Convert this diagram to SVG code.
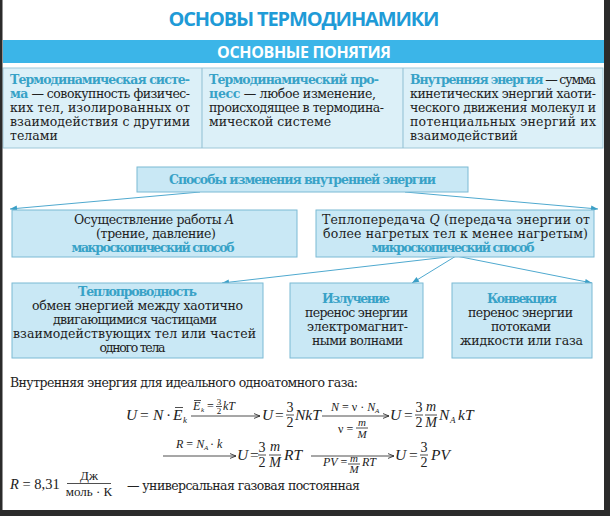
<svg xmlns="http://www.w3.org/2000/svg" width="610" height="516" viewBox="0 0 610 516">
<defs>
<style>
.t{font-family:"DejaVu Serif","Liberation Serif",serif;font-size:12.5px;fill:#222}
.bl{font-weight:bold;fill:#38a2c7}
.c{text-anchor:middle}
.m{font-family:"Liberation Serif",serif;font-size:15.5px;fill:#222}
.i{font-style:italic}
.n{font-style:normal}
.box{fill:#c9e8f5;stroke:#7bbad4;stroke-width:1}
.con{stroke:#4fa9cf;stroke-width:1;fill:none}
.fl{stroke:#222;stroke-width:0.8;fill:none}
</style>
<marker id="ah" viewBox="0 0 10 10" refX="10" refY="5" markerWidth="8" markerHeight="7" markerUnits="userSpaceOnUse" orient="auto"><path d="M0,1 L10,5 L0,9 z" fill="#3b9fc6"/></marker>
<marker id="ak" viewBox="0 0 10 10" refX="10" refY="5" markerWidth="7" markerHeight="6" markerUnits="userSpaceOnUse" orient="auto"><path d="M0,1 L10,5 L0,9" fill="none" stroke="#222" stroke-width="1.4"/></marker>
</defs>
<rect x="0" y="0" width="610" height="516" fill="#fff"/>

<g id="title">
<text x="304" y="25.5" text-anchor="middle" textLength="271" style="font-family:'Open Sans',sans-serif;font-weight:bold;font-size:20px;fill:#1f9bd7">ОСНОВЫ ТЕРМОДИНАМИКИ</text>
</g>
<g id="band">
<rect x="3" y="40" width="601" height="23" fill="#3bb5e8"/>
<text x="304" y="58" text-anchor="middle" textLength="174" style="font-family:'Open Sans',sans-serif;font-weight:bold;font-size:16px;fill:#fff">ОСНОВНЫЕ ПОНЯТИЯ</text>
</g>

<g id="table">
<rect x="3" y="68" width="600" height="80" fill="#dcf0f8" stroke="#9ec8d9" stroke-width="1"/>
<line x1="202" y1="68" x2="202" y2="148" stroke="#8fbfd3"/>
<line x1="403" y1="68" x2="403" y2="148" stroke="#8fbfd3"/>
<g id="cell-system">
<text class="t bl" x="10" y="84" textLength="180">Термодинамическая систе-</text>
<text class="t" x="10" y="98" textLength="180"><tspan class="bl">ма</tspan> — совокупность физичес-</text>
<text class="t" x="10" y="112" textLength="180">ких тел, изолированных от</text>
<text class="t" x="10" y="126" textLength="180">взаимодействия с другими</text>
<text class="t" x="10" y="140">телами</text>
</g>
<g id="cell-process">
<text class="t bl" x="209" y="84" textLength="170">Термодинамический про-</text>
<text class="t" x="209" y="98" textLength="167"><tspan class="bl">цесс</tspan> — любое изменение,</text>
<text class="t" x="209" y="112" textLength="175">происходящее в термодина-</text>
<text class="t" x="209" y="126">мической системе</text>
</g>
<g id="cell-energy">
<text class="t" x="410" y="84" textLength="186"><tspan class="bl">Внутренняя энергия</tspan> — сумма</text>
<text class="t" x="410" y="98" textLength="186">кинетических энергий хаоти-</text>
<text class="t" x="410" y="112" textLength="186">ческого движения молекул и</text>
<text class="t" x="410" y="126" textLength="186">потенциальных энергий их</text>
<text class="t" x="410" y="140">взаимодействий</text>
</g>
</g>

<g id="connectors">
<line class="con" x1="200" y1="192" x2="10" y2="209" marker-end="url(#ah)"/>
<line class="con" x1="405" y1="192" x2="598" y2="209" marker-end="url(#ah)"/>
<line class="con" x1="456" y1="256" x2="222" y2="283" marker-end="url(#ah)"/>
<line class="con" x1="456" y1="256" x2="412" y2="283" marker-end="url(#ah)"/>
<line class="con" x1="456" y1="256" x2="592" y2="283" marker-end="url(#ah)"/>
</g>

<g id="node-ways">
<rect class="box" x="137" y="167" width="331" height="25"/>
<text class="t bl c" x="302.5" y="184" textLength="267">Способы изменения внутренней энергии</text>
</g>
<g id="node-work">
<rect class="box" x="12" y="210" width="285" height="47"/>
<text class="t c" x="154" y="224" textLength="160">Осуществление работы <tspan class="i">A</tspan></text>
<text class="t c" x="156" y="238" textLength="120">(трение, давление)</text>
<text class="t bl c" x="153" y="252" textLength="163">макроскопический способ</text>
</g>
<g id="node-heat">
<rect class="box" x="316" y="210" width="278" height="47"/>
<text class="t c" x="456" y="224" textLength="268">Теплопередача <tspan class="i">Q</tspan> (передача энергии от</text>
<text class="t c" x="455.5" y="238" textLength="265">более нагретых тел к менее нагретым)</text>
<text class="t bl c" x="453" y="252" textLength="163">микроскопический способ</text>
</g>
<g id="node-conduction">
<rect class="box" x="12" y="283" width="251" height="75"/>
<text class="t bl c" x="137.5" y="296" textLength="119">Теплопроводность</text>
<text class="t c" x="137.5" y="310" textLength="211">обмен энергией между хаотично</text>
<text class="t c" x="135" y="324" textLength="164">двигающимися частицами</text>
<text class="t c" x="134.5" y="338" textLength="243">взаимодействующих тел или частей</text>
<text class="t c" x="132.5" y="352" textLength="66">одного тела</text>
</g>
<g id="node-radiation">
<rect class="box" x="290" y="283" width="133" height="75"/>
<text class="t bl c" x="356" y="303" textLength="68">Излучение</text>
<text class="t c" x="356.5" y="317" textLength="103">перенос энергии</text>
<text class="t c" x="357.5" y="331" textLength="101">электромагнит-</text>
<text class="t c" x="357.5" y="345" textLength="91">ными волнами</text>
</g>
<g id="node-convection">
<rect class="box" x="452" y="283" width="140" height="75"/>
<text class="t bl c" x="522" y="303" textLength="70">Конвекция</text>
<text class="t c" x="520.5" y="317" textLength="105">перенос энергии</text>
<text class="t c" x="521" y="331" textLength="60">потоками</text>
<text class="t c" x="521.5" y="345" textLength="123">жидкости или газа</text>
</g>

<g id="formulas">
<text class="t" x="10" y="387" textLength="348">Внутренняя энергия для идеального одноатомного газа:</text>

<!-- row 1 -->
<text class="m i" x="126" y="420">U</text>
<text class="m" x="140" y="420">=</text>
<text class="m i" x="153" y="420">N</text>
<text class="m" x="166" y="420">·</text>
<text class="m i" x="173" y="420">E</text>
<line class="fl" x1="175" y1="407.5" x2="183" y2="407.5"/>
<text class="m i" x="183" y="423" style="font-size:9px">k</text>
<line class="fl" x1="191" y1="416" x2="260" y2="416" marker-end="url(#ak)"/>
<text class="m i" x="193" y="410" style="font-size:12px">E</text>
<line class="fl" x1="194" y1="400.5" x2="201" y2="400.5"/>
<text class="m i" x="201" y="412" style="font-size:7px">k</text>
<text class="m" x="207" y="410" style="font-size:12px">=</text>
<text class="m c" x="219" y="404.5" style="font-size:9px">3</text>
<line class="fl" x1="216" y1="406.5" x2="222" y2="406.5"/>
<text class="m c" x="219" y="414" style="font-size:9px">2</text>
<text class="m i" x="223" y="410" style="font-size:12px">kT</text>

<text class="m i" x="262" y="420">U</text>
<text class="m" x="275" y="420">=</text>
<text class="m c" x="290" y="411.5" style="font-size:14px">3</text>
<line class="fl" x1="286" y1="415" x2="294" y2="415"/>
<text class="m c" x="290" y="426.5" style="font-size:14px">2</text>
<text class="m i" x="295" y="420">NkT</text>
<line class="fl" x1="322" y1="416" x2="389" y2="416" marker-end="url(#ak)"/>
<text class="m i" x="331" y="411" style="font-size:12px">N <tspan class="n">=</tspan> <tspan class="n">ν</tspan> <tspan class="n">·</tspan> N</text>
<text class="m i" x="375" y="413" style="font-size:7px">A</text>
<text class="m" x="338" y="433" style="font-size:12px">ν =</text>
<text class="m i c" x="362" y="426" style="font-size:11px">m</text>
<line class="fl" x1="356" y1="428" x2="368" y2="428"/>
<text class="m i c" x="362" y="437.5" style="font-size:11px">M</text>

<text class="m i" x="390" y="420">U</text>
<text class="m" x="404" y="420">=</text>
<text class="m c" x="419" y="411.5" style="font-size:14px">3</text>
<line class="fl" x1="415" y1="415" x2="423" y2="415"/>
<text class="m c" x="419" y="426.5" style="font-size:14px">2</text>
<text class="m i c" x="431" y="411" style="font-size:14px">m</text>
<line class="fl" x1="425" y1="415" x2="437" y2="415"/>
<text class="m i c" x="431" y="426.5" style="font-size:14px">M</text>
<text class="m i" x="439" y="420">N</text>
<text class="m i" x="450" y="423" style="font-size:9px">A</text>
<text class="m i" x="458" y="420">kT</text>

<!-- row 2 -->
<line class="fl" x1="163" y1="456" x2="236" y2="456" marker-end="url(#ak)"/>
<text class="m i" x="176" y="448" style="font-size:12px">R <tspan class="n">=</tspan> N</text>
<text class="m i" x="204" y="450" style="font-size:7px">A</text>
<text class="m i" x="210" y="448" style="font-size:12px"><tspan class="n">·</tspan> k</text>

<text class="m i" x="237" y="460">U</text>
<text class="m" x="250" y="460">=</text>
<text class="m c" x="262" y="451.5" style="font-size:14px">3</text>
<line class="fl" x1="258" y1="455" x2="266" y2="455"/>
<text class="m c" x="262" y="466.5" style="font-size:14px">2</text>
<text class="m i c" x="275" y="451" style="font-size:14px">m</text>
<line class="fl" x1="269" y1="455" x2="281" y2="455"/>
<text class="m i c" x="275" y="466.5" style="font-size:14px">M</text>
<text class="m i" x="284" y="460">RT</text>
<line class="fl" x1="311" y1="456" x2="394" y2="456" marker-end="url(#ak)"/>
<text class="m i" x="323" y="466" style="font-size:12px">PV <tspan class="n">=</tspan></text>
<text class="m i c" x="354" y="462" style="font-size:11px">m</text>
<line class="fl" x1="348" y1="464" x2="360" y2="464"/>
<text class="m i c" x="354" y="473" style="font-size:11px">M</text>
<text class="m i" x="362" y="466" style="font-size:12px">RT</text>

<text class="m i" x="395" y="460">U</text>
<text class="m" x="409" y="460">=</text>
<text class="m c" x="424" y="451.5" style="font-size:14px">3</text>
<line class="fl" x1="420" y1="455" x2="428" y2="455"/>
<text class="m c" x="424" y="466.5" style="font-size:14px">2</text>
<text class="m i" x="431" y="460">PV</text>

<!-- row 3 -->
<text class="m" x="10" y="489" style="font-size:14.5px"><tspan class="i">R</tspan> = 8,31</text>
<text class="m c" x="89" y="480" style="font-size:13px">Дж</text>
<line class="fl" x1="67" y1="483.5" x2="111" y2="483.5"/>
<text class="m c" x="89" y="496" style="font-size:13px">моль · К</text>
<text class="t" x="127" y="490" textLength="233">— универсальная газовая постоянная</text>
</g>

<g id="frame">
<rect x="0" y="0" width="2.5" height="516" fill="#2b2b2b"/>
<rect x="604" y="0" width="6" height="516" fill="#2b2b2b"/>
<rect x="0" y="510" width="610" height="6" fill="#2b2b2b"/>
</g>
</svg>
